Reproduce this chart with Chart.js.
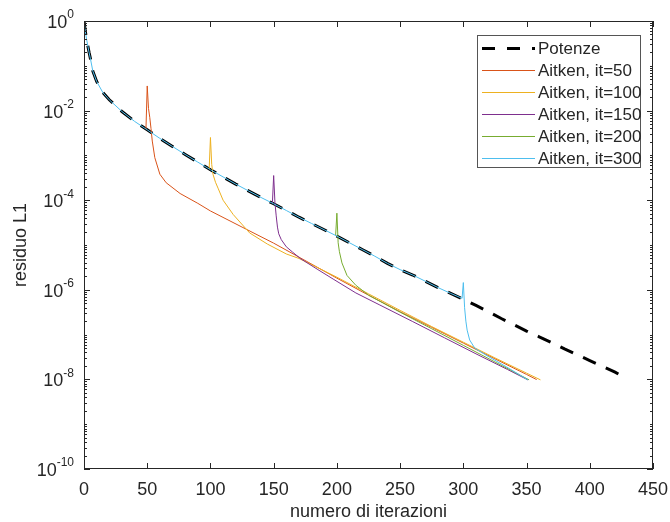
<!DOCTYPE html>
<html>
<head>
<meta charset="utf-8">
<script src="https://cdn.jsdelivr.net/npm/chart.js@4.4.1/dist/chart.umd.min.js"></script>
<style>
  html, body { margin: 0; padding: 0; background: #fff; }
  #wrap { width: 670px; height: 522px; }
</style>
</head>
<body>
<div id="wrap"><canvas id="chart" width="670" height="522"></canvas></div>
<script>
// residuo L1 per iterazione
const potenzeIt = [0, 1, 2, 3, 4, 5, 7, 10, 15, 20, 30, 40, 50, 60, 70, 80, 90, 100, 110, 120, 130, 140, 150, 160, 170, 180, 190, 200,
    210, 220, 230, 240, 250, 260, 270, 280, 290, 300, 310, 320, 330, 340, 350, 360, 370, 380, 390, 400, 410, 420, 430];
const potenzeRes = [1, 0.603, 0.398, 0.282, 0.2, 0.148, 0.0759, 0.0447, 0.0251, 0.0174, 0.00955, 0.00575, 0.00372, 0.0024, 0.00158,
    0.00105, 7.08e-4, 4.79e-4, 3.31e-4, 2.29e-4, 1.62e-4, 1.15e-4, 8.32e-5, 5.89e-5, 4.17e-5, 3.02e-5, 2.19e-5, 1.58e-5,
    1.12e-5, 7.94e-6, 5.62e-6, 3.89e-6, 2.82e-6, 2.14e-6, 1.55e-6, 1.12e-6, 8.32e-7, 6.17e-7, 4.47e-7, 3.24e-7, 2.29e-7,
    1.66e-7, 1.2e-7, 8.91e-8, 6.61e-8, 4.79e-8, 3.55e-8, 2.63e-8, 1.95e-8, 1.45e-8, 1.0e-8];

const ait50It = [49, 50, 51, 52, 53, 54, 56, 60, 65, 76, 90, 100, 125, 150, 170, 200, 225, 250, 275, 300, 325, 350, 358];
const ait50Res = [3.89e-3, 3.55e-2, 1.12e-2, 7.08e-3, 3.98e-3, 2.09e-3, 8.91e-4, 3.8e-4, 2.45e-4, 1.41e-4, 8.51e-5, 5.75e-5,
    2.51e-5, 1.1e-5, 5.37e-6, 1.82e-6, 7.59e-7, 3.24e-7, 1.45e-7, 6.46e-8, 2.88e-8, 1.29e-8, 9.9e-9];

const ait100It = [99, 100, 101, 102, 104, 106, 110, 118, 131, 145, 160, 170, 200, 225, 250, 275, 300, 325, 350, 361];
const ait100Res = [5.01e-4, 2.51e-3, 6.31e-4, 3.8e-4, 2.51e-4, 1.86e-4, 1.0e-4, 4.79e-5, 1.86e-5, 1.05e-5, 6.31e-6, 5.01e-6,
    1.91e-6, 8.13e-7, 3.47e-7, 1.51e-7, 6.76e-8, 3.02e-8, 1.38e-8, 9.77e-9];

const ait150It = [149, 150, 151, 152, 153, 154, 156, 160, 165, 171, 185, 197, 215, 234, 260, 285, 310, 335, 351];
const ait150Res = [8.51e-5, 3.55e-4, 8.91e-5, 4.47e-5, 2.51e-5, 1.78e-5, 1.32e-5, 9.12e-6, 6.92e-6, 5.01e-6, 2.82e-6, 1.74e-6,
    8.51e-7, 4.57e-7, 1.95e-7, 8.51e-8, 3.72e-8, 1.66e-8, 9.77e-9];

const ait200It = [199, 200, 201, 202, 204, 208, 215, 225, 250, 275, 300, 325, 352];
const ait200Res = [1.62e-5, 5.13e-5, 1.12e-5, 7.08e-6, 3.98e-6, 2.09e-6, 1.26e-6, 7.59e-7, 3.16e-7, 1.35e-7, 5.75e-8, 2.45e-8, 9.77e-9];

const ait300It = [0, 1, 2, 3, 4, 5, 7, 10, 15, 20, 30, 40, 50, 60, 70, 80, 90, 100, 110, 120, 130, 140, 150, 160, 170, 180, 190, 200,
    210, 220, 230, 240, 250, 260, 270, 280, 290, 299, 300, 301, 302, 303, 305, 309, 318, 334, 351];
const ait300Res = [1, 0.603, 0.398, 0.282, 0.2, 0.148, 0.0759, 0.0447, 0.0251, 0.0174, 0.00955, 0.00575, 0.00372, 0.0024, 0.00158,
    0.00105, 7.08e-4, 4.79e-4, 3.31e-4, 2.29e-4, 1.62e-4, 1.15e-4, 8.32e-5, 5.89e-5, 4.17e-5, 3.02e-5, 2.19e-5, 1.58e-5,
    1.12e-5, 7.94e-6, 5.62e-6, 3.89e-6, 2.82e-6, 2.14e-6, 1.55e-6, 1.12e-6, 8.32e-7, 6.46e-7, 1.45e-6, 3.98e-7, 2.0e-7,
    1.26e-7, 7.59e-8, 5.01e-8, 3.47e-8, 1.91e-8, 9.77e-9];

const seriesLabels = ['Potenze', 'Aitken, it=50', 'Aitken, it=100', 'Aitken, it=150', 'Aitken, it=200', 'Aitken, it=300'];
const seriesColors = ['#000000', '#D95319', '#EDB120', '#7E2F8E', '#77AC30', '#4DBEEE'];

const xTicks = [0, 50, 100, 150, 200, 250, 300, 350, 400, 450];
const yTickExp = [0, -2, -4, -6, -8, -10];

const xTitle = 'numero di iterazioni';
const yTitle = 'residuo L1';

const AXIS = '#262626';
const FONT = '"Liberation Sans", Arial, Helvetica, sans-serif';
const DASH = [14, 11];

function pts(xs, ys) {
    return xs.map((x, i) => ({ x: x, y: ys[i] }));
}

const seriesData = [
    pts(potenzeIt, potenzeRes),
    pts(ait50It, ait50Res),
    pts(ait100It, ait100Res),
    pts(ait150It, ait150Res),
    pts(ait200It, ait200Res),
    pts(ait300It, ait300Res)
];

// lower order = drawn on top; MATLAB puts later plots above earlier ones
const datasets = seriesData.map((d, i) => ({
    label: seriesLabels[i],
    data: d,
    borderColor: seriesColors[i],
    borderWidth: i === 0 ? 3 : 1,
    borderDash: i === 0 ? DASH : [],
    pointRadius: 0,
    tension: 0,
    fill: false,
    order: 10 - i
}));

const matlabAxes = {
    id: 'matlabAxes',
    afterDraw(chart) {
        const ctx = chart.ctx;
        const a = chart.chartArea;
        const xs = chart.scales.x;
        const ys = chart.scales.y;
        ctx.save();

        // box
        ctx.strokeStyle = AXIS;
        ctx.lineWidth = 1;
        ctx.strokeRect(a.left + 0.5, a.top + 0.5, a.right - a.left - 1, a.bottom - a.top - 1);

        // x ticks, inside, bottom and top
        ctx.beginPath();
        xTicks.forEach(v => {
            const px = Math.round(xs.getPixelForValue(v)) + 0.5;
            ctx.moveTo(px, a.bottom); ctx.lineTo(px, a.bottom - 6);
            ctx.moveTo(px, a.top); ctx.lineTo(px, a.top + 6);
        });
        // y ticks: major on labelled decades, minor elsewhere
        for (let e = -10; e < 0; e++) {
            for (let m = 1; m < 10; m++) {
                const py = Math.round(ys.getPixelForValue(m * Math.pow(10, e))) + 0.5;
                ctx.moveTo(a.left, py); ctx.lineTo(a.left + 3, py);
                ctx.moveTo(a.right, py); ctx.lineTo(a.right - 3, py);
            }
        }
        yTickExp.forEach(e => {
            const py = Math.round(ys.getPixelForValue(Math.pow(10, e))) + 0.5;
            ctx.moveTo(a.left, py); ctx.lineTo(a.left + 6, py);
            ctx.moveTo(a.right, py); ctx.lineTo(a.right - 6, py);
        });
        ctx.stroke();

        ctx.fillStyle = AXIS;
        // x tick labels
        ctx.font = '18px ' + FONT;
        ctx.textAlign = 'center';
        ctx.textBaseline = 'middle';
        xTicks.forEach(v => {
            ctx.fillText(String(v), xs.getPixelForValue(v), a.bottom + 21);
        });

        // y tick labels 10^e
        yTickExp.forEach(e => {
            const py = ys.getPixelForValue(Math.pow(10, e));
            const right = a.left - 10;
            ctx.font = '12px ' + FONT;
            const sup = String(e);
            const sw = ctx.measureText(sup).width;
            ctx.textAlign = 'left';
            ctx.fillText(sup, right - sw, py - 6);
            ctx.font = '18px ' + FONT;
            ctx.textAlign = 'right';
            ctx.fillText('10', right - sw, py + 2);
        });

        // axis titles
        ctx.font = '18px ' + FONT;
        ctx.textAlign = 'center';
        ctx.fillText(xTitle, (a.left + a.right) / 2, a.bottom + 43);
        ctx.save();
        ctx.translate(21, (a.top + a.bottom) / 2);
        ctx.rotate(-Math.PI / 2);
        ctx.fillText(yTitle, 0, 0);
        ctx.restore();

        // legend
        const lx = 477, ly = 35, lw = 163, lh = 132;
        ctx.fillStyle = '#ffffff';
        ctx.fillRect(lx, ly, lw, lh);
        ctx.strokeStyle = '#555555';
        ctx.lineWidth = 1;
        ctx.strokeRect(lx + 0.5, ly + 0.5, lw, lh);
        seriesLabels.forEach((lab, i) => {
            const cy = ly + 13 + i * 22;
            ctx.beginPath();
            ctx.strokeStyle = seriesColors[i];
            ctx.lineWidth = i === 0 ? 3 : 1;
            ctx.setLineDash(i === 0 ? [13, 12] : []);
            ctx.moveTo(lx + 5, cy + 0.5);
            ctx.lineTo(lx + 58, cy + 0.5);
            ctx.stroke();
            ctx.setLineDash([]);
            ctx.fillStyle = AXIS;
            ctx.font = '17px ' + FONT;
            ctx.textAlign = 'left';
            ctx.textBaseline = 'middle';
            ctx.fillText(lab, lx + 61, cy + 1);
        });

        ctx.restore();
    }
};

new Chart(document.getElementById('chart'), {
    type: 'line',
    data: { datasets },
    options: {
        responsive: false,
        animation: false,
        devicePixelRatio: 1,
        layout: { padding: { left: 84, right: 17, top: 21, bottom: 53 } },
        plugins: {
            legend: { display: false },
            tooltip: { enabled: false }
        },
        scales: {
            x: { type: 'linear', min: 0, max: 450, display: false },
            y: { type: 'logarithmic', min: 1e-10, max: 1, display: false }
        }
    },
    plugins: [matlabAxes]
});
</script>
</body>
</html>
